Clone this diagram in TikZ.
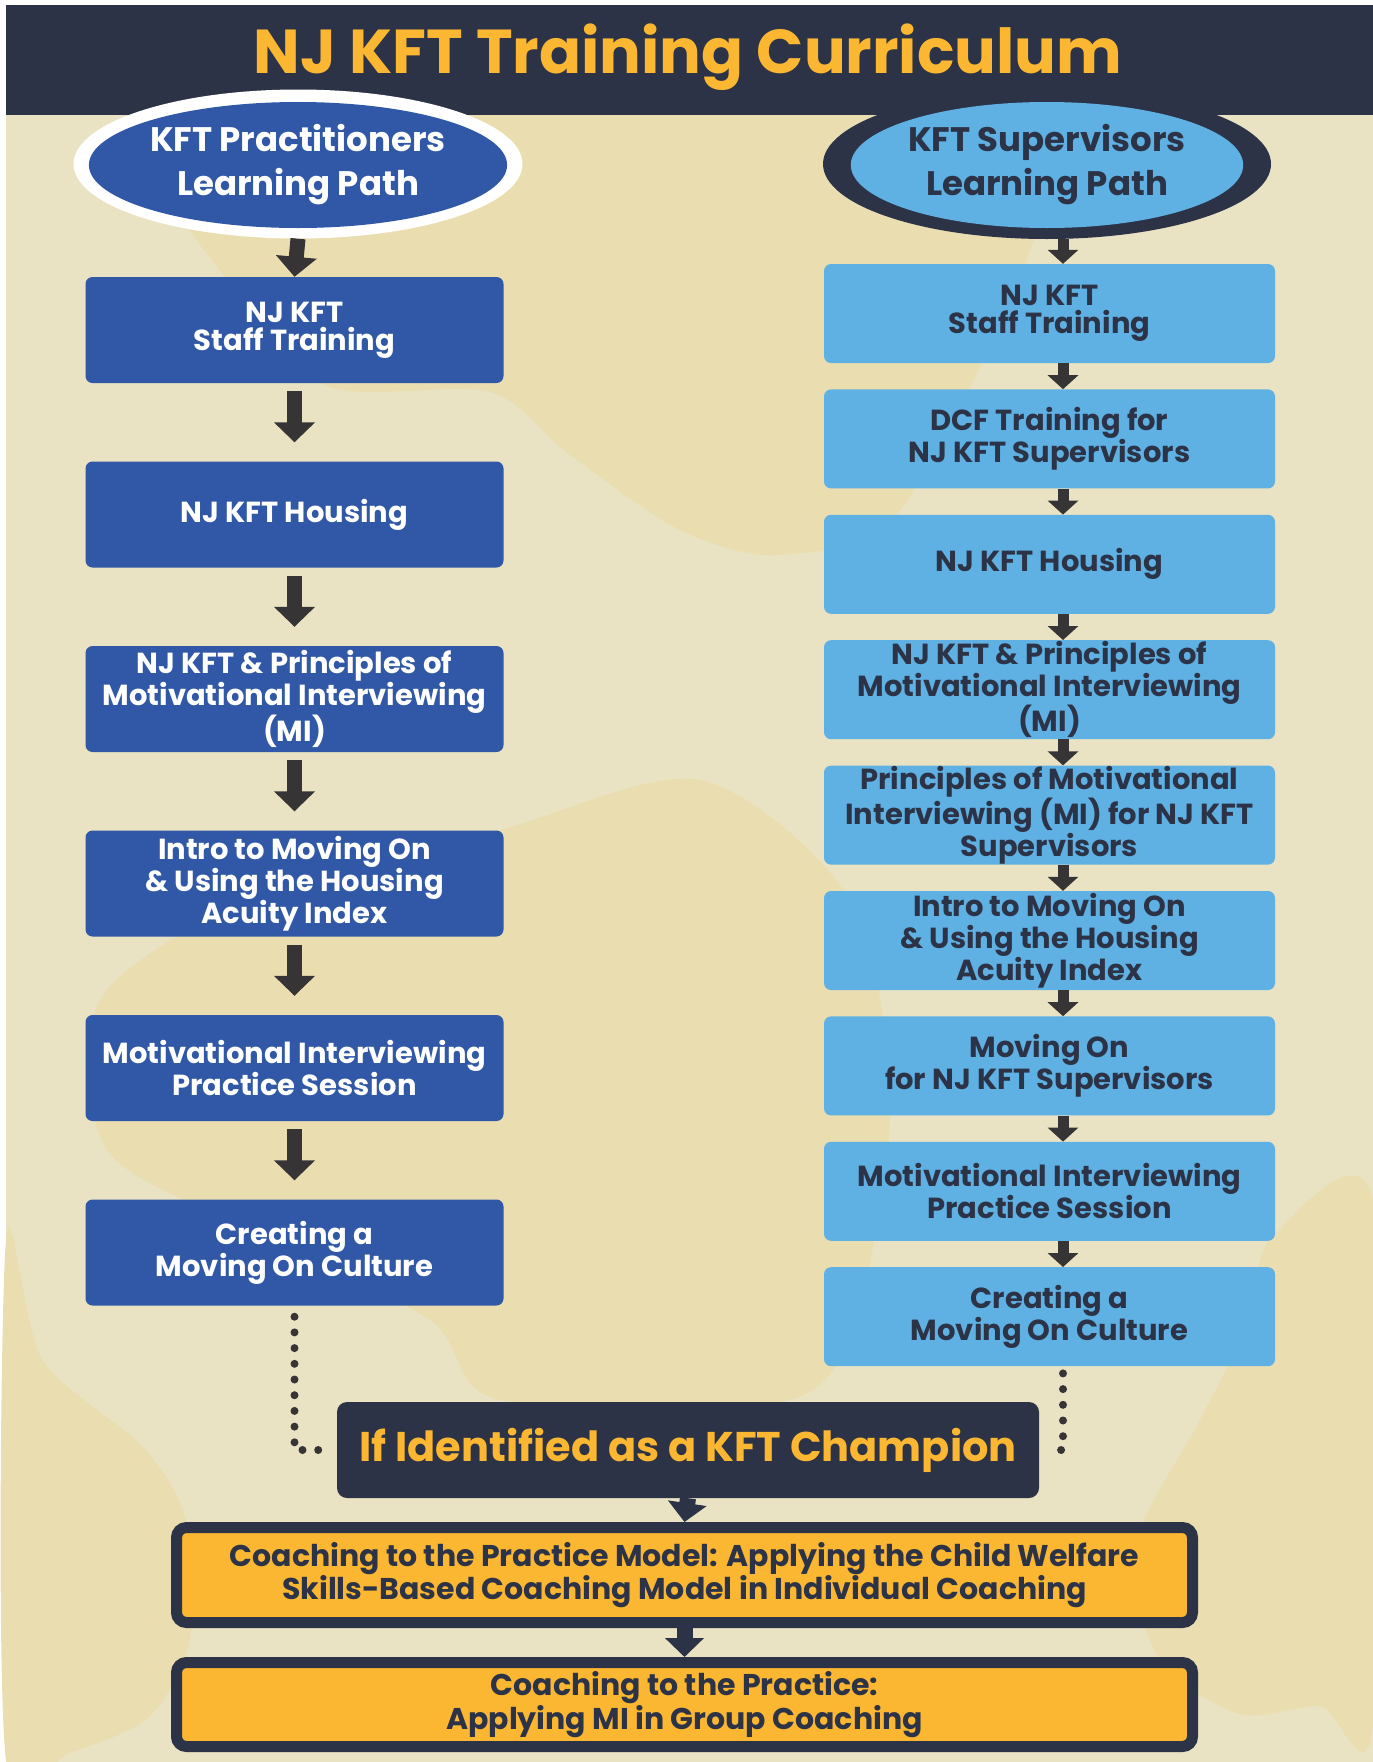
\documentclass[tikz,border=0pt]{standalone}
\usepackage{fontspec}
\setmainfont{Poppins}
\usetikzlibrary{positioning,arrows.meta,shapes.geometric,decorations.markings}

\definecolor{navy}{HTML}{2C3347}
\definecolor{gold}{HTML}{FBB731}
\definecolor{cream}{HTML}{E9E3C3}
\definecolor{sand}{HTML}{EADEB1}
\definecolor{royal}{HTML}{3158A6}
\definecolor{sky}{HTML}{5FB0E3}
\definecolor{arrowgray}{HTML}{363435}

\newcommand\boxfont{\bfseries\fontsize{29}{28}\selectfont}

\tikzset{
  pbox/.style={fill=royal, text=white, rounded corners=7pt, minimum width=418pt,
    minimum height=106pt, align=center, font=\boxfont, inner sep=0pt},
  sbox/.style={fill=sky, text=navy, rounded corners=7pt, minimum width=451pt,
    minimum height=99pt, align=center, font=\boxfont, inner sep=0pt},
  cbox/.style={fill=gold, draw=navy, line width=11pt, rounded corners=10pt, text=navy,
    minimum width=1016pt, align=center, font=\bfseries\fontsize{30}{29}\selectfont, inner sep=0pt},
  pathoval/.style={ellipse, inner sep=0pt, align=center,
    font=\bfseries\fontsize{34}{44}\selectfont},
  larrow/.style={arrowgray, line width=15pt, -{Triangle[width=40pt,length=20pt]}},
  rarrow/.style={arrowgray, line width=11pt, -{Triangle[width=30pt,length=14pt]}},
  carrow/.style={navy, line width=16pt, -{Triangle[width=38pt,length=19pt]}},
  dotline/.style={decoration={markings, mark=between positions 0 and 1 step 15.7pt
    with {\fill[arrowgray] (0,0) circle (4pt);}}, decorate}
}

\begin{document}
\begin{tikzpicture}[x=1pt,y=-1pt]
  \useasboundingbox (0,0) rectangle (1373,1762);

  % Background
  \fill[cream] (6,5) rectangle (1373,1762);
  \fill[sand] plot[smooth cycle] coordinates {(200,115) (1030,115) (1030,250) (900,510)
    (780,555) (680,530) (570,455) (490,392) (330,387) (240,300)};
  \fill[sand] plot[smooth cycle] coordinates {(700,780) (850,900) (890,1100) (860,1300)
    (790,1400) (500,1400) (430,1320) (250,1230) (107,1150) (100,1000) (250,900) (500,830)};
  \fill[sand] plot[smooth cycle] coordinates {(6,1240) (43,1361) (143,1447) (186,1521)
    (190,1638) (150,1716) (71,1752) (6,1760)};
  \fill[sand] plot[smooth cycle] coordinates {(1270,1240) (1373,1200) (1373,1725)
    (1320,1706) (1240,1714) (1160,1660) (1133,1550) (1200,1420) (1250,1320)};

  % Header
  \fill[navy] (6,5) rectangle (1373,115);
  \node[text=gold, font=\bfseries\fontsize{62}{64}\selectfont] (title) at (688,57)
    {NJ KFT Training Curriculum};

  % Learning path ovals
  \node[pathoval, fill=white, minimum width=449pt, minimum height=149pt] (pout) at (298,164) {};
  \node[pathoval, fill=royal, text=white, minimum width=379pt, minimum height=126pt] (pin) at (298,165)
    {KFT Practitioners\\Learning Path};
  \node[pathoval, fill=navy, minimum width=448pt, minimum height=150pt] (sout) at (1047,164) {};
  \node[pathoval, fill=sky, text=navy, minimum width=371pt, minimum height=126pt] (sin) at (1047,165)
    {KFT Supervisors\\Learning Path};

  % Practitioners path
  \node[pbox] (p1) at (294.5,330) {NJ KFT\\Staff Training};
  \node[pbox] (p2) at (294.5,514.5) {NJ KFT Housing};
  \node[pbox] (p3) at (294.5,699) {NJ KFT \& Principles of\\Motivational Interviewing\\(MI)};
  \node[pbox] (p4) at (294.5,883.5) {Intro to Moving On\\\& Using the Housing\\Acuity Index};
  \node[pbox] (p5) at (294.5,1068) {Motivational Interviewing\\Practice Session};
  \node[pbox] (p6) at (294.5,1252.5) {Creating a\\Moving On Culture};

  % Supervisors path
  \node[sbox] (s1) at (1049.5,313.5) {NJ KFT\\Staff Training};
  \node[sbox] (s2) at (1049.5,438.9) {DCF Training for\\NJ KFT Supervisors};
  \node[sbox] (s3) at (1049.5,564.3) {NJ KFT Housing};
  \node[sbox] (s4) at (1049.5,689.7) {NJ KFT \& Principles of\\Motivational Interviewing\\(MI)};
  \node[sbox] (s5) at (1049.5,815.1) {Principles of Motivational\\Interviewing (MI) for NJ KFT\\Supervisors};
  \node[sbox] (s6) at (1049.5,940.5) {Intro to Moving On\\\& Using the Housing\\Acuity Index};
  \node[sbox] (s7) at (1049.5,1065.9) {Moving On\\for NJ KFT Supervisors};
  \node[sbox] (s8) at (1049.5,1191.3) {Motivational Interviewing\\Practice Session};
  \node[sbox] (s9) at (1049.5,1316.7) {Creating a\\Moving On Culture};

  % Champion and coaching
  \node[fill=navy, text=gold, rounded corners=10pt, minimum width=702pt, minimum height=96pt,
    inner sep=0pt, font=\bfseries\fontsize{41.5}{42}\selectfont] (champ) at (688,1450)
    {If Identified as a KFT Champion};
  \node[cbox, minimum height=95pt] (c1) at (684.5,1575)
    {Coaching to the Practice Model: Applying the Child Welfare\\Skills-Based Coaching Model in Individual Coaching};
  \node[cbox, minimum height=84pt] (c2) at (684.5,1704.5)
    {Coaching to the Practice:\\Applying MI in Group Coaching};

  % Arrows
  \draw[larrow] (pout.south) -- (p1.north);
  \foreach \a/\b in {p1/p2, p2/p3, p3/p4, p4/p5, p5/p6}
    \draw[larrow] ([yshift=-8pt]\a.south) -- ([yshift=19pt]\b.north);
  \draw[rarrow] ([xshift=16pt]sout.south) -- ([xshift=13.5pt]s1.north);
  \foreach \a/\b in {s1/s2, s2/s3, s3/s4, s4/s5, s5/s6, s6/s7, s7/s8, s8/s9}
    \draw[rarrow] ([xshift=13.5pt]\a.south) -- ([xshift=13.5pt]\b.north);
  \draw[carrow] (champ.south) -- (c1.north);
  \draw[carrow] (c1.south) -- (c2.north);

  % Dotted links
  \path[dotline] ([yshift=-11pt]p6.south) |- ([xshift=-11pt]champ.west);
  \path[dotline] ([xshift=13.5pt,yshift=-7pt]s9.south) |- ([xshift=8pt]champ.east);
\end{tikzpicture}
\end{document}
